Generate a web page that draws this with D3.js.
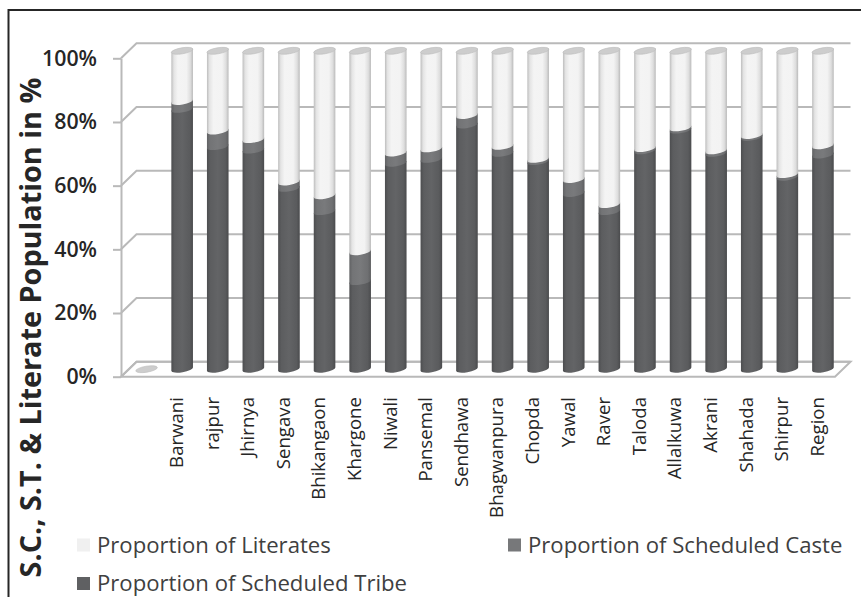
<!DOCTYPE html>
<html>
<head>
<meta charset="utf-8">
<script src="https://cdn.jsdelivr.net/npm/d3@7"></script>
<style>
  html, body { margin: 0; padding: 0; background: #fff; }
  svg { display: block; }
  text { font-family: "Open Sans", "Noto Sans", sans-serif; }
</style>
</head>
<body>
<div id="chart"></div>
<script>
// Categories (the first slot is an empty placeholder with no data)
const categories = ["", "Barwani", "rajpur", "Jhirnya", "Sengava", "Bhikangaon", "Khargone",
  "Niwali", "Pansemal", "Sendhawa", "Bhagwanpura", "Chopda", "Yawal", "Raver", "Taloda",
  "Allalkuwa", "Akrani", "Shahada", "Shirpur", "Region"];

// Shares in percent, stacked bottom to top: tribe, caste, literates
const scheduledTribe = [0, 81.6, 69.9, 68.8, 56.8, 49.5, 27.5, 64.7, 65.9, 76.7, 67.8, 65.2,
  55.2, 49.5, 68.6, 75.1, 67.8, 72.8, 60.3, 67.3];
const scheduledCaste = [0, 2.5, 4.9, 3.3, 2.0, 5.0, 9.4, 3.2, 3.3, 3.0, 2.2, 0.7,
  4.4, 2.2, 0.7, 0.7, 0.8, 0.6, 0.8, 2.9];
const literates = [0, 15.9, 25.2, 27.9, 41.2, 45.5, 63.1, 32.1, 30.8, 20.3, 30.0, 34.1,
  40.4, 48.3, 30.7, 24.2, 31.4, 26.6, 38.9, 29.8];

const seriesKeys = ["tribe", "caste", "literates"];
const seriesNames = {
  literates: "Proportion of Literates",
  caste: "Proportion of Scheduled Caste",
  tribe: "Proportion of Scheduled Tribe"
};
const tickValues = [0, 20, 40, 60, 80, 100];
const tickLabel = d => d + "%";
const yTitle = "S.C., S.T. & Literate Population in %";

const W = 861, H = 597;
const svg = d3.select("#chart").append("svg").attr("width", W).attr("height", H);

// outer frame
svg.append("rect").attr("x", 8.5).attr("y", 10).attr("width", W + 20).attr("height", H + 20)
  .attr("fill", "#fff").attr("stroke", "#262626").attr("stroke-width", 2);

// 3D geometry: front plane plus a receding depth offset
const depthX = 15.5, depthY = -15;
const x = d3.scaleBand().domain(categories).range([121, 833]).paddingInner(0).paddingOuter(0);
const y = d3.scaleLinear().domain([0, 100]).range([376.7, 58.3]);
const x0 = x.range()[0], x1 = x.range()[1];

const table = categories.map((c, i) => ({
  cat: c, tribe: scheduledTribe[i], caste: scheduledCaste[i], literates: literates[i]
}));
const stacked = d3.stack().keys(seriesKeys)(table);

const defs = svg.append("defs");
function grad(id, stops) {
  const g = defs.append("linearGradient").attr("id", id)
    .attr("x1", "0%").attr("x2", "100%").attr("y1", "0%").attr("y2", "0%");
  stops.forEach(([o, c]) => g.append("stop").attr("offset", o).attr("stop-color", c));
}
grad("g-literates", [["0%", "#bdbdbd"], ["12%", "#e4e4e4"], ["30%", "#f4f4f4"], ["70%", "#f3f3f3"], ["88%", "#dedede"], ["100%", "#bababa"]]);
grad("g-caste", [["0%", "#616264"], ["15%", "#737476"], ["50%", "#797a7c"], ["85%", "#6f7072"], ["100%", "#5d5e60"]]);
grad("g-tribe", [["0%", "#4c4d4f"], ["15%", "#5c5d5f"], ["50%", "#636466"], ["85%", "#5a5b5d"], ["100%", "#4a4b4d"]]);

const gridColor = "#b9b9b9";
const walls = svg.append("g");

// floor
walls.append("path")
  .attr("d", `M${x0},${y(0)} L${x1 + 2},${y(0)} L${x1 + 2 + depthX},${y(0) + depthY} L${x0 + depthX},${y(0) + depthY} Z`)
  .attr("fill", "#fff").attr("stroke", gridColor).attr("stroke-width", 2);

// back-wall gridlines with their receding connectors
tickValues.forEach(v => {
  walls.append("path")
    .attr("d", `M${x0},${y(v)} L${x0 + depthX},${y(v) + depthY} L${x1 + 2 + depthX},${y(v) + depthY}`)
    .attr("fill", "none").attr("stroke", gridColor).attr("stroke-width", 2);
});

// front value axis
const axis = svg.append("g").attr("transform", `translate(${x0},0)`)
  .call(d3.axisLeft(y).tickValues(tickValues).tickFormat(tickLabel).tickSize(8).tickSizeOuter(0).tickPadding(16));
axis.select(".domain").attr("stroke", gridColor).attr("stroke-width", 2);
axis.selectAll(".tick line").attr("stroke", gridColor).attr("stroke-width", 2);
axis.selectAll(".tick text").attr("fill", "#262626").style("font-weight", 600).style("font-size", "21px");

// cylinders
const bw = x.bandwidth();
const rx = 10.8, slant = 1.8, ry = 3.0;
const rxp = Math.hypot(rx, slant);
const rot = Math.atan2(-slant, rx) * 180 / Math.PI;
const cxOf = c => x(c) + bw / 2 + depthX / 2;
const cyOf = v => y(v) + depthY / 2;

function bodyPath(cx, yTop, yBot) {
  return `M${cx - rx},${yTop + slant} L${cx - rx},${yBot + slant} ` +
    `A${rxp},${ry} ${rot} 0 0 ${cx + rx},${yBot - slant} L${cx + rx},${yTop - slant} ` +
    `A${rxp},${ry} ${rot} 0 0 ${cx - rx},${yTop + slant} Z`;
}

const bars = svg.append("g");
stacked.forEach(layer => {
  bars.append("g").selectAll("path")
    .data(layer.filter(d => d[1] > d[0]))
    .join("path")
    .attr("d", d => bodyPath(cxOf(d.data.cat), cyOf(d[1]), cyOf(d[0])))
    .attr("fill", `url(#g-${layer.key})`);
});

// caps on top of each stack (flat disc for the empty slot)
const topLayer = stacked[stacked.length - 1];
bars.append("g").selectAll("ellipse")
  .data(topLayer)
  .join("ellipse")
  .attr("cx", d => cxOf(d.data.cat))
  .attr("cy", d => cyOf(d[1]))
  .attr("rx", rxp).attr("ry", ry)
  .attr("transform", d => `rotate(${rot},${cxOf(d.data.cat)},${cyOf(d[1])})`)
  .attr("fill", "#cdcdcd").attr("stroke", "#bdbdbd").attr("stroke-width", 0.6);

// category labels
const catAxis = svg.append("g").attr("transform", "translate(0,397)")
  .call(d3.axisBottom(x).tickSize(0));
catAxis.select(".domain").remove();
catAxis.selectAll(".tick text")
  .attr("transform", "rotate(-90)")
  .attr("x", 0).attr("y", 8.5).attr("dy", 0)
  .attr("text-anchor", "end")
  .attr("fill", "#262626")
  .style("font-size", "18px");

// size a text element so that it spans a given length
function fitTo(sel, target) {
  const len = sel.node().getComputedTextLength();
  const fs = parseFloat(sel.style("font-size"));
  return fs * target / len;
}
const ref = catAxis.selectAll(".tick text").filter(d => d === "Barwani");
const catSize = fitTo(ref, 71);
catAxis.selectAll(".tick text").style("font-size", catSize + "px");

const hundred = axis.selectAll(".tick text").filter(d => d === 100);
const tickSize = fitTo(hundred, 55);
axis.selectAll(".tick text").style("font-size", tickSize + "px");

// value axis title
const title = svg.append("text")
  .attr("transform", "translate(41,327.5) rotate(-90)")
  .attr("text-anchor", "middle")
  .attr("fill", "#262626")
  .style("font-weight", 700).style("font-size", "22px")
  .text(yTitle);
title.style("font-size", fitTo(title, 500) + "px");

// legend
const colors = { literates: "#f0f0f0", caste: "#77787a", tribe: "#5f6062" };
const legendItems = [
  { key: "literates", x: 77, y: 545 },
  { key: "caste", x: 508, y: 545 },
  { key: "tribe", x: 77, y: 583.5 }
];
const legend = svg.append("g");
legendItems.forEach(it => {
  legend.append("rect").attr("x", it.x).attr("y", it.y - 6.5).attr("width", 13).attr("height", 13)
    .attr("fill", colors[it.key]);
  legend.append("text").attr("class", "leg").attr("x", it.x + 20).attr("y", it.y)
    .attr("dy", "0.35em").attr("fill", "#404040").style("font-size", "22px")
    .text(seriesNames[it.key]);
});
const legRef = legend.selectAll("text.leg").filter(function () { return this.textContent === seriesNames.literates; });
legend.selectAll("text.leg").style("font-size", fitTo(legRef, 234) + "px");
</script>
</body>
</html>
